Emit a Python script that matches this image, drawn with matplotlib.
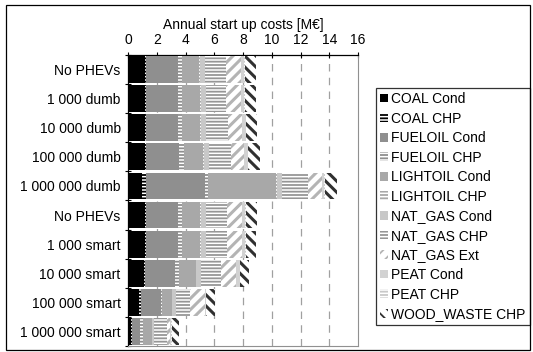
import numpy as np
import matplotlib
matplotlib.use("Agg")
import matplotlib.pyplot as plt
from matplotlib.patches import Rectangle

plt.rcParams['font.family'] = ['Liberation Sans', 'DejaVu Sans']
plt.rcParams['font.size'] = 10
plt.rcParams['hatch.linewidth'] = 1.3

categories = ["No PHEVs", "1 000 dumb", "10 000 dumb", "100 000 dumb", "1 000 000 dumb",
              "No PHEVs", "1 000 smart", "10 000 smart", "100 000 smart", "1 000 000 smart"]

coal_cond = [1.16, 1.16, 1.16, 1.16, 0.97, 1.16, 1.16, 1.09, 0.74, 0.19]
coal_chp = [0.07, 0.07, 0.07, 0.07, 0.23, 0.07, 0.07, 0.07, 0.12, 0.05]
fueloil_cond = [2.25, 2.25, 2.25, 2.30, 4.13, 2.25, 2.25, 2.09, 1.39, 0.58]
fueloil_chp = [0.23, 0.23, 0.23, 0.37, 0.23, 0.23, 0.23, 0.28, 0.12, 0.23]
lightoil_cond = [1.23, 1.28, 1.28, 1.32, 4.75, 1.28, 1.28, 1.16, 0.65, 0.58]
lightoil_chp = [0.05, 0.05, 0.05, 0.05, 0.05, 0.05, 0.05, 0.05, 0.05, 0.03]
natgas_cond = [0.32, 0.35, 0.35, 0.32, 0.35, 0.35, 0.35, 0.30, 0.26, 0.12]
natgas_chp = [1.51, 1.44, 1.58, 1.53, 1.81, 1.51, 1.46, 1.44, 0.97, 0.95]
natgas_ext = [1.00, 1.04, 0.97, 0.97, 0.97, 1.04, 1.04, 1.00, 1.04, 0.19]
peat_cond = [0.23, 0.19, 0.23, 0.23, 0.16, 0.19, 0.23, 0.28, 0.07, 0.05]
peat_chp = [0.05, 0.05, 0.05, 0.05, 0.05, 0.05, 0.05, 0.05, 0.03, 0.05]
wood_waste_chp = [0.77, 0.77, 0.72, 0.77, 0.81, 0.77, 0.70, 0.58, 0.63, 0.51]

# (label, values, facecolor, hatch, hatch colour, hatch width)
series = [
    ("COAL Cond", coal_cond, "black", None, "black", 1.3),
    ("COAL CHP", coal_chp, "white", "-----", "black", 1.3),
    ("FUELOIL Cond", fueloil_cond, "#8f8f8f", None, "#8f8f8f", 1.3),
    ("FUELOIL CHP", fueloil_chp, "white", "-----", "#8f8f8f", 1.3),
    ("LIGHTOIL Cond", lightoil_cond, "#a8a8a8", None, "#a8a8a8", 1.3),
    ("LIGHTOIL CHP", lightoil_chp, "white", "-----", "#a8a8a8", 1.3),
    ("NAT_GAS Cond", natgas_cond, "#c8c8c8", None, "#c8c8c8", 1.3),
    ("NAT_GAS CHP", natgas_chp, "white", "-----", "#969696", 1.3),
    ("NAT_GAS Ext", natgas_ext, "white", "///", "#b4b4b4", 2.2),
    ("PEAT Cond", peat_cond, "#d2d2d2", None, "#d2d2d2", 1.3),
    ("PEAT CHP", peat_chp, "white", "-----", "#c8c8c8", 1.3),
    ("WOOD_WASTE CHP", wood_waste_chp, "white", "\\\\\\", "#303030", 2.2),
]

fig = plt.figure(figsize=(5.33, 3.52), dpi=100)
ax = fig.add_axes([0.2407, 0.017, 0.431, 0.827])

y = np.arange(len(categories))
left = np.zeros(len(categories))
for label, vals, fc, hatch, hc, hlw in series:
    with plt.rc_context({'hatch.linewidth': hlw}):
        ax.barh(y, vals, left=left, height=0.92, color=fc, edgecolor=hc,
                hatch=hatch, linewidth=0, label=label, zorder=3)
    left += np.array(vals)

ax.set_xlim(0, 16)
ax.set_ylim(len(categories) - 0.5, -0.5)
ax.xaxis.tick_top()
ax.xaxis.set_label_position("top")
ax.set_xticks(np.arange(0, 17, 2))
ax.set_xlabel("Annual start up costs [M€]", fontsize=10, labelpad=3)
ax.tick_params(axis="x", direction="inout", length=5, width=0.8, pad=3, labelsize=10)

ax.set_yticks(y)
ax.set_yticklabels(categories)
ax.set_yticks(np.arange(-0.5, len(categories)), minor=True)
ax.tick_params(axis="y", which="major", length=0, pad=5.5, labelsize=10)
ax.tick_params(axis="y", which="minor", direction="inout", length=5, width=0.8)

for xv in np.arange(2, 16, 2):
    ax.axvline(xv, color="#a0a0a0", linewidth=0.9, linestyle=(0, (6, 5)), zorder=1)

ax.spines["top"].set_linewidth(0.9)
ax.spines["left"].set_linewidth(0.9)
ax.spines["right"].set_color("#909090")
ax.spines["bottom"].set_color("#909090")

leg = ax.legend(loc="upper left", bbox_to_anchor=(1.078, 0.887), frameon=True,
                fancybox=False, edgecolor="black", fontsize=10,
                handlelength=0.6, handleheight=0.6, handletextpad=0.2,
                labelspacing=0.4, borderpad=0.3, borderaxespad=0)
leg.get_frame().set_linewidth(0.9)

fig.add_artist(Rectangle((0.012, 0.006), 0.982, 0.98, transform=fig.transFigure,
                         fill=False, edgecolor="black", linewidth=0.9))

fig.savefig("out.png", dpi=100)
